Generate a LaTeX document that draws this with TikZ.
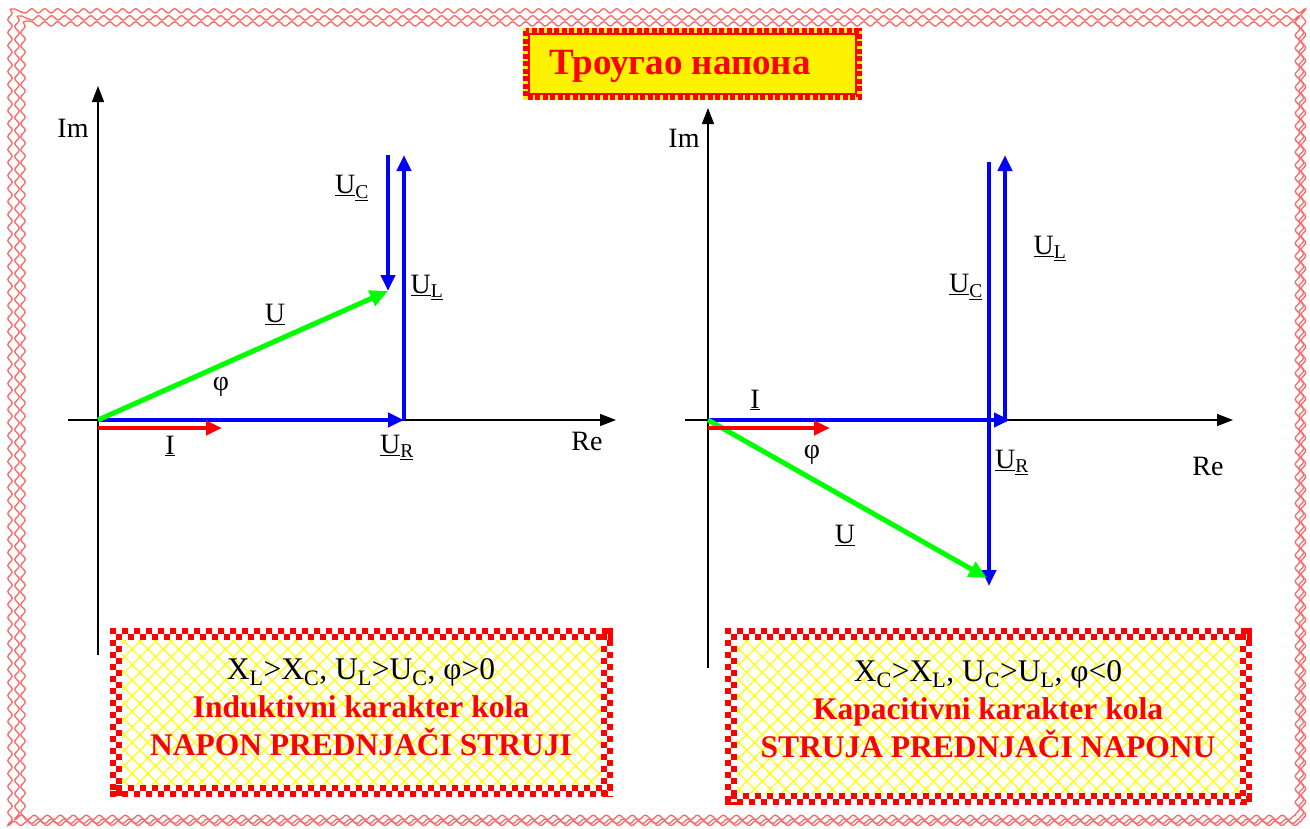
\documentclass[tikz,border=0pt]{standalone}
\usepackage{fontspec}
\setmainfont{Liberation Serif}
\usetikzlibrary{arrows.meta,patterns.meta,decorations.pathmorphing}
\newcommand\vsub[2]{\underline{#1}\textsubscript{\underline{#2}}}
\newcommand\chkbox[4]{%
  \fill[white] (#1,#2) rectangle (#3,#4);
  \fill[hatch] (#1+12,#2+12) rectangle (#3-12,#4-12);
  \fill[hatchb] (#1+12,#2+12) rectangle (#3-12,#4-12);
  \draw[chkA] (#1,#2+3) -- (#3,#2+3);
  \draw[chkB] (#1,#2+9) -- (#3,#2+9);
  \draw[chkA] (#1,#4-3) -- (#3,#4-3);
  \draw[chkB] (#1,#4-9) -- (#3,#4-9);
  \draw[chkA] (#1+3,#2) -- (#1+3,#4);
  \draw[chkB] (#1+9,#2) -- (#1+9,#4);
  \draw[chkA] (#3-3,#2) -- (#3-3,#4);
  \draw[chkB] (#3-9,#2) -- (#3-9,#4);
}
\begin{document}
\begin{tikzpicture}[x=1pt,y=-1pt,
  axis/.style={black,line width=1.4pt,-{Triangle[length=16pt,width=12pt]}},
  bvec/.style={blue,line width=4pt,-{Triangle[length=16pt,width=14pt]}},
  gvec/.style={green,line width=5pt,-{Triangle[length=18pt,width=16pt]}},
  rvec/.style={red,line width=4pt,-{Triangle[length=16pt,width=14pt]}},
  lbl/.style={font=\fontsize{28}{32}\selectfont,inner sep=0pt},
  boxtxt/.style={align=center,font=\fontsize{31.5}{38}\selectfont,inner sep=0pt},
  hatch/.style={pattern={Lines[angle=45,distance=11pt,line width=1.2pt]},pattern color=yellow},
  hatchb/.style={pattern={Lines[angle=-45,distance=11pt,line width=1.2pt]},pattern color=yellow},
  chkA/.style={red,line width=6pt,dash pattern=on 6pt off 6pt},
  chkB/.style={red,line width=6pt,dash pattern=on 6pt off 6pt,dash phase=6pt},
  wave/.style={red!60,line width=1.3pt,decorate,decoration={snake,segment length=13pt,amplitude=2.2pt}},
]
\useasboundingbox (0,0) rectangle (1310,828);
\fill[white] (0,0) rectangle (1310,828);
% outer wavy frame
\draw[wave] (10,9) rectangle (1303,822);
\draw[wave] (17,16) rectangle (1297,816);
\draw[wave] (23,22) rectangle (1297,816);

% title
\fill[yellow] (523,28) rectangle (862,100);
\draw[red,line width=6pt,dash pattern=on 5pt off 2.5pt] (526,31) rectangle (859,97);
\draw[red,line width=1.5pt] (529,34) rectangle (856,94);
\node[font=\fontsize{37}{40}\selectfont\bfseries,text=red,inner sep=0pt] (title) at (680,66) {Троугао напона};

% ===== left diagram =====
\coordinate (L0) at (98,420);
\coordinate (LimB) at (98,655);
\coordinate (LimT) at (98,86);
\coordinate (LreL) at (68,420);
\coordinate (LreR) at (616,420);
\coordinate (LUR) at (404,420);
\coordinate (LULt) at (404,155);
\coordinate (LUCs) at (388,155);
\coordinate (LUCe) at (388,291);
\coordinate (LIs) at (98,428);
\coordinate (LIe) at (222,428);
\draw[axis] (LimB) -- (LimT);
\draw[axis] (LreL) -- (LreR);
\draw[bvec] (L0) -- (LUR);
\draw[bvec] (LUR) -- (LULt);
\draw[bvec] (LUCs) -- (LUCe);
\draw[gvec] (L0) -- (LUCe);
\draw[rvec] (LIs) -- (LIe);
\node[lbl] (Lim) at (73,128) {Im};
\node[lbl] (Lre) at (587,441) {Re};
\node[lbl] (LU) at (275,314) {\underline{U}};
\node[lbl] (Lphi) at (221,387) {φ};
\node[lbl] (LI) at (170,446) {\underline{I}};
\node[lbl] (LULl) at (427,287) {\vsub{U}{L}};
\node[lbl] (LUCl) at (352,188) {\vsub{U}{C}};
\node[lbl] (LURl) at (397,447) {\vsub{U}{R}};

% ===== right diagram =====
\coordinate (R0) at (708,420);
\coordinate (RimB) at (708,668);
\coordinate (RimT) at (708,108);
\coordinate (RreL) at (685,420);
\coordinate (RreR) at (1233,420);
\coordinate (RUR) at (1010,420);
\coordinate (RULs) at (1005,420);
\coordinate (RULt) at (1005,155);
\coordinate (RUCs) at (989,162);
\coordinate (RUCe) at (989,586);
\coordinate (RUe) at (987,578);
\coordinate (RIs) at (708,428);
\coordinate (RIe) at (830,428);
\draw[axis] (RimB) -- (RimT);
\draw[axis] (RreL) -- (RreR);
\draw[bvec] (RULs) -- (RULt);
\draw[bvec] (RUCs) -- (RUCe);
\draw[bvec] (R0) -- (RUR);
\draw[gvec] (R0) -- (RUe);
\draw[rvec] (RIs) -- (RIe);
\node[lbl] (Rim) at (684,138) {Im};
\node[lbl] (Rre) at (1208,466) {Re};
\node[lbl] (RI) at (755,400) {\underline{I}};
\node[lbl] (Rphi) at (812,455) {φ};
\node[lbl] (RU) at (845,535) {\underline{U}};
\node[lbl] (RURl) at (1012,462) {\vsub{U}{R}};
\node[lbl] (RUCl) at (966,287) {\vsub{U}{C}};
\node[lbl] (RULl) at (1050,248) {\vsub{U}{L}};

% ===== bottom boxes =====
\chkbox{110}{628}{613}{797}
\node[boxtxt] (bl) at (361,707) {X\textsubscript{L}>X\textsubscript{C}, U\textsubscript{L}>U\textsubscript{C}, φ>0\\
 \textcolor{red}{\bfseries Induktivni karakter kola}\\
 \textcolor{red}{\bfseries NAPON PREDNJAČI STRUJI}};

\chkbox{725}{628}{1252}{805}
\node[boxtxt] (br) at (988,709) {X\textsubscript{C}>X\textsubscript{L}, U\textsubscript{C}>U\textsubscript{L}, φ<0\\
 \textcolor{red}{\bfseries Kapacitivni karakter kola}\\
 \textcolor{red}{\bfseries STRUJA PREDNJAČI NAPONU}};
\end{tikzpicture}
\end{document}
